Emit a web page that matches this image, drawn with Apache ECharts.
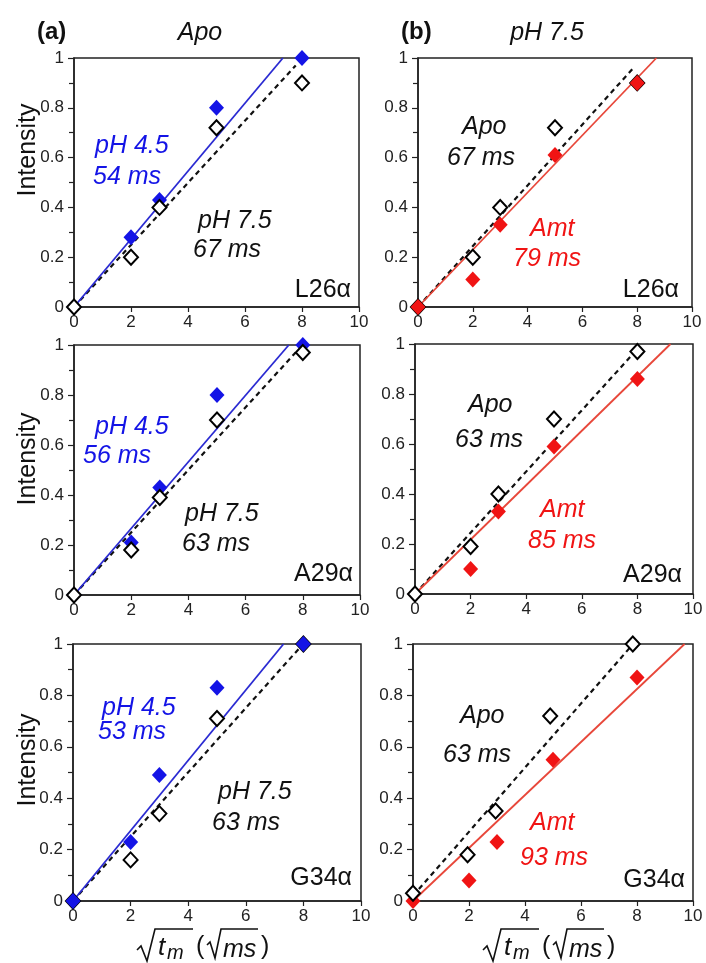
<!DOCTYPE html>
<html>
<head>
<meta charset="utf-8">
<script src="https://cdn.jsdelivr.net/npm/echarts@6.0.0/dist/echarts.min.js"></script>
<style>
  html, body { margin: 0; padding: 0; background: #fff; }
  #chart { width: 706px; height: 963px; }
</style>
</head>
<body>
<div id="chart"></div>
<script>
// Mixing-time axis: √t_m in √ms
const sqrtTm = [0, 2, 3, 5, 8];
const sqrtTmApoG34 = [0, 1.95, 2.95, 4.9, 7.85];

// Column (a): apo protein, pH 4.5 (filled) vs pH 7.5 (open)
const apoPH45_L26 = [0, 0.28, 0.43, 0.80, 1.00];
const apoPH75_L26 = [0, 0.20, 0.40, 0.72, 0.90];
const apoPH45_A29 = [0, 0.21, 0.43, 0.80, 1.00];
const apoPH75_A29 = [0, 0.18, 0.39, 0.70, 0.97];
const apoPH45_G34 = [0, 0.23, 0.49, 0.83, 1.00];
const apoPH75_G34 = [0, 0.16, 0.34, 0.71, 1.00];

// Column (b): pH 7.5, Apo (open) vs Amt (filled)
const ph75Apo_L26 = [0, 0.20, 0.40, 0.72, 0.90];
const ph75Amt_L26 = [0, 0.11, 0.33, 0.61, 0.90];
const ph75Apo_A29 = [0, 0.19, 0.40, 0.70, 0.97];
const ph75Amt_A29 = [0, 0.10, 0.33, 0.59, 0.86];
const ph75Apo_G34 = [0.03, 0.18, 0.35, 0.72, 1.00];
const ph75Amt_G34 = [0, 0.08, 0.23, 0.55, 0.87];

// Linear fits, start and end points [√tm, intensity]
const fitPH45_L26 = [[0, 0], [7.33, 1]];
const fitPH75_L26 = [[0, 0], [7.78, 0.97]];
const fitPH45_A29 = [[0, 0], [7.51, 1]];
const fitPH75_A29 = [[0, 0], [7.75, 0.97]];
const fitPH45_G34 = [[0, 0], [7.31, 1]];
const fitPH75_G34 = [[0, 0], [7.83, 0.98]];
const fitApo_L26 = [[0, 0], [7.91, 0.966]];
const fitAmt_L26 = [[0, 0], [8.70, 1]];
const fitApo_A29 = [[0, 0], [7.88, 0.965]];
const fitAmt_A29 = [[0, 0], [9.19, 1]];
const fitApo_G34 = [[0, 0.02], [7.86, 1]];
const fitAmt_G34 = [[0, 0], [9.70, 1]];

// Fit time constants shown on each panel
const tauPH45 = ['54 ms', '56 ms', '53 ms'];
const tauPH75 = ['67 ms', '63 ms', '63 ms'];
const tauApo = ['67 ms', '63 ms', '63 ms'];
const tauAmt = ['79 ms', '85 ms', '93 ms'];
const residues = ['L26α', 'A29α', 'G34α'];

const xTicks = { min: 0, max: 10, interval: 2 };
const yTicks = { min: 0, max: 1, interval: 0.2 };

const FONT = '"Liberation Sans", Arial, Helvetica, sans-serif';
const BLUE = '#1414e6';
const BLUE_LINE = '#2a2ad2';
const RED = '#f01414';
const RED_LINE = '#e8473a';
const INK = '#111';

// Panel frames in pixels: [left, top, width, height]
const frames = [
  [74, 58, 285, 249], [418, 58, 274, 249],
  [74, 345, 286, 250], [415, 344, 278, 250],
  [73, 644, 288, 257], [413, 644, 280, 257]
];

const panels = [
  { open: [sqrtTm, apoPH75_L26], fill: [sqrtTm, apoPH45_L26], color: BLUE, lineColor: BLUE_LINE, fitS: fitPH45_L26, fitD: fitPH75_L26, fillOnTop: false },
  { open: [sqrtTm, ph75Apo_L26], fill: [sqrtTm, ph75Amt_L26], color: RED, lineColor: RED_LINE, fitS: fitAmt_L26, fitD: fitApo_L26, fillOnTop: true },
  { open: [sqrtTm, apoPH75_A29], fill: [sqrtTm, apoPH45_A29], color: BLUE, lineColor: BLUE_LINE, fitS: fitPH45_A29, fitD: fitPH75_A29, fillOnTop: false },
  { open: [sqrtTm, ph75Apo_A29], fill: [sqrtTm, ph75Amt_A29], color: RED, lineColor: RED_LINE, fitS: fitAmt_A29, fitD: fitApo_A29, fillOnTop: false },
  { open: [sqrtTm, apoPH75_G34], fill: [sqrtTm, apoPH45_G34], color: BLUE, lineColor: BLUE_LINE, fitS: fitPH45_G34, fitD: fitPH75_G34, fillOnTop: true },
  { open: [sqrtTmApoG34, ph75Apo_G34], fill: [sqrtTm, ph75Amt_G34], color: RED, lineColor: RED_LINE, fitS: fitAmt_G34, fitD: fitApo_G34, fillOnTop: false }
];

const zip = (xs, ys) => xs.map((x, i) => [x, ys[i]]);

const grid = [], xAxis = [], yAxis = [], series = [];
frames.forEach((f, i) => {
  grid.push({ left: f[0], top: f[1], width: f[2], height: f[3], show: true, borderColor: '#222', borderWidth: 1.5, backgroundColor: 'transparent' });
  xAxis.push({
    type: 'value', gridIndex: i, min: xTicks.min, max: xTicks.max, interval: xTicks.interval,
    axisLine: { show: true, onZero: false, lineStyle: { color: '#222', width: 1.5 } },
    axisTick: { show: true, length: 5, lineStyle: { color: '#222', width: 1.2 } },
    axisLabel: { fontSize: 17, color: '#222', fontFamily: FONT, margin: 7 },
    splitLine: { show: false }
  });
  yAxis.push({
    type: 'value', gridIndex: i, min: yTicks.min, max: yTicks.max, interval: yTicks.interval,
    axisLine: { show: true, onZero: false, lineStyle: { color: '#222', width: 1.5 } },
    axisTick: { show: true, length: 6, lineStyle: { color: '#222', width: 1.2 } },
    minorTick: { show: true, splitNumber: 2, length: 5, lineStyle: { color: '#222', width: 1.2 } },
    axisLabel: { fontSize: 17, color: '#222', fontFamily: FONT, margin: 10 },
    splitLine: { show: false }, minorSplitLine: { show: false }
  });
  const p = panels[i];
  series.push({
    type: 'line', xAxisIndex: i, yAxisIndex: i, data: p.fitD, symbol: 'none', z: 2,
    lineStyle: { color: INK, width: 2.2, type: [5, 4] }, silent: true, animation: false
  });
  series.push({
    type: 'line', xAxisIndex: i, yAxisIndex: i, data: p.fitS, symbol: 'none', z: 3,
    lineStyle: { color: p.lineColor, width: 1.8 }, silent: true, animation: false
  });
  series.push({
    type: 'scatter', xAxisIndex: i, yAxisIndex: i, data: zip(p.open[0], p.open[1]),
    symbol: 'diamond', symbolSize: [14, 15], clip: false, z: p.fillOnTop ? 4 : 6,
    itemStyle: { color: '#fff', borderColor: '#000', borderWidth: 2, opacity: 1 }, animation: false
  });
  series.push({
    type: 'scatter', xAxisIndex: i, yAxisIndex: i, data: zip(p.fill[0], p.fill[1]),
    symbol: 'diamond', symbolSize: [15, 16], clip: false, z: p.fillOnTop ? 6 : 4,
    itemStyle: { color: p.color, opacity: 1 }, animation: false
  });
});

// Text helpers for annotations
function txt(text, x, y, opts) {
  opts = opts || {};
  return {
    type: 'text', x: x, y: y, z: 20, silent: true,
    rotation: opts.rotation || 0,
    style: {
      text: text,
      font: (opts.style || 'italic') + ' ' + (opts.weight || 'normal') + ' ' + (opts.size || 25) + 'px ' + FONT,
      fill: opts.color || INK,
      align: opts.align || 'left',
      verticalAlign: 'middle'
    }
  };
}

const graphic = [];
// Headers
graphic.push(txt('(a)', 37, 32, { style: 'normal', weight: 'bold', size: 24 }));
graphic.push(txt('Apo', 200, 33, { align: 'center', size: 25 }));
graphic.push(txt('(b)', 401, 32, { style: 'normal', weight: 'bold', size: 24 }));
graphic.push(txt('pH 7.5', 547, 33, { align: 'center', size: 25 }));

// Y axis titles
[150, 459, 760].forEach(cy => {
  graphic.push(txt('Intensity', 28, cy, { style: 'normal', size: 25, align: 'center', rotation: Math.PI / 2 }));
});

// Column (a) annotations
const aText = [
  { ph45: [95, 146, 93, 177], ph75: [198, 221, 193, 250], res: [351, 290] },
  { ph45: [95, 427, 83, 456], ph75: [185, 514, 182, 544], res: [353, 574] },
  { ph45: [102, 708, 98, 732], ph75: [218, 792, 212, 823], res: [352, 878] }
];
aText.forEach((t, r) => {
  graphic.push(txt('pH 4.5', t.ph45[0], t.ph45[1], { color: BLUE }));
  graphic.push(txt(tauPH45[r], t.ph45[2], t.ph45[3], { color: BLUE }));
  graphic.push(txt('pH 7.5', t.ph75[0], t.ph75[1]));
  graphic.push(txt(tauPH75[r], t.ph75[2], t.ph75[3]));
  graphic.push(txt(residues[r], t.res[0], t.res[1], { style: 'normal', align: 'right' }));
});

// Column (b) annotations
const bText = [
  { apo: [462, 127, 447, 158], amt: [530, 229, 513, 259], res: [679, 290] },
  { apo: [468, 405, 455, 440], amt: [540, 510, 528, 541], res: [682, 575] },
  { apo: [460, 716, 443, 755], amt: [530, 823, 520, 858], res: [685, 880] }
];
bText.forEach((t, r) => {
  graphic.push(txt('Apo', t.apo[0], t.apo[1]));
  graphic.push(txt(tauApo[r], t.apo[2], t.apo[3]));
  graphic.push(txt('Amt', t.amt[0], t.amt[1], { color: RED }));
  graphic.push(txt(tauAmt[r], t.amt[2], t.amt[3], { color: RED }));
  graphic.push(txt(residues[r], t.res[0], t.res[1], { style: 'normal', align: 'right' }));
});

// X axis title: √t_m (√ms), radicals drawn as strokes
[0, 346].forEach(dx => {
  const rad = (pts) => ({
    type: 'polyline', silent: true, z: 20,
    shape: { points: pts.map(p => [p[0] + dx, p[1]]) },
    style: { stroke: INK, lineWidth: 1.6, fill: null }
  });
  graphic.push(rad([[137, 950], [141, 946], [147, 961], [155, 929], [193, 929]]));
  graphic.push(rad([[207, 945], [210, 942], [215, 958], [221, 929], [258, 929]]));
  graphic.push(txt('t', 158 + dx, 948, { size: 26 }));
  graphic.push(txt('m', 167 + dx, 953, { size: 20 }));
  graphic.push(txt('(', 196 + dx, 947, { style: 'normal', size: 25 }));
  graphic.push(txt('ms', 223 + dx, 950, { size: 25 }));
  graphic.push(txt(')', 261 + dx, 947, { style: 'normal', size: 25 }));
});

const chart = echarts.init(document.getElementById('chart'), null, { renderer: 'canvas' });
chart.setOption({
  backgroundColor: '#fff',
  animation: false,
  textStyle: { fontFamily: FONT },
  grid: grid,
  xAxis: xAxis,
  yAxis: yAxis,
  series: series,
  graphic: graphic
});
</script>
</body>
</html>
